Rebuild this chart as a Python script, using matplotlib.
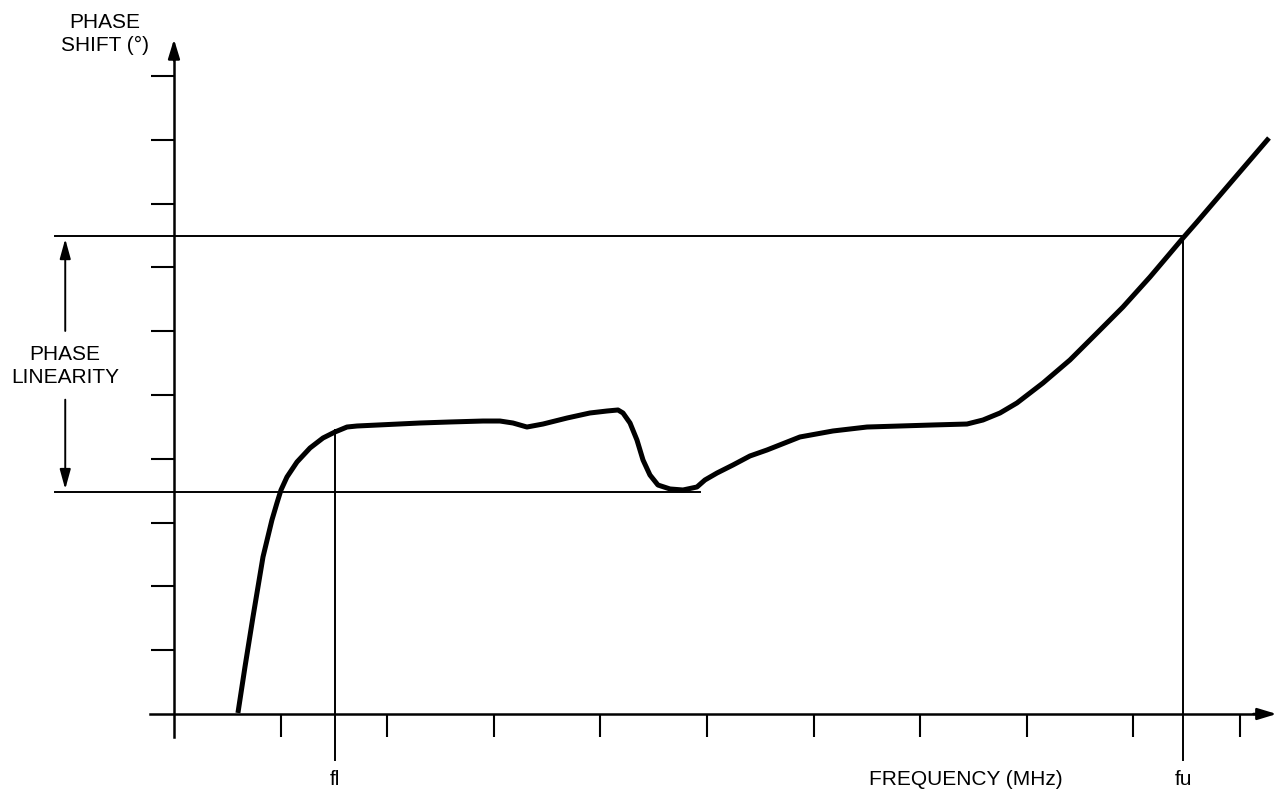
import matplotlib.pyplot as plt

# --- dados (unidades = divisões da grade) ---
freq = [0.600, 0.666, 0.741, 0.835, 0.919, 0.966, 1.004, 1.060, 1.154, 1.276, 1.398,
        1.510, 1.623, 1.717, 2.308, 2.589, 2.899, 3.058, 3.180, 3.311, 3.462, 3.687,
        3.902, 4.062, 4.165, 4.212, 4.278, 4.343, 4.400, 4.465, 4.540, 4.653, 4.775,
        4.906, 4.981, 5.094, 5.244, 5.403, 5.563, 5.872, 6.182, 6.501, 6.811, 7.120,
        7.439, 7.589, 7.749, 7.908, 8.152, 8.405, 8.659, 8.902, 9.156, 9.465, 9.597,
        9.934, 10.272]
fase = [0.016, 0.737, 1.520, 2.461, 3.041, 3.307, 3.511, 3.715, 3.950, 4.169, 4.326,
        4.420, 4.498, 4.514, 4.561, 4.577, 4.592, 4.592, 4.561, 4.498, 4.545, 4.639,
        4.718, 4.749, 4.765, 4.718, 4.561, 4.295, 3.981, 3.746, 3.589, 3.527, 3.511,
        3.558, 3.668, 3.777, 3.903, 4.044, 4.138, 4.342, 4.436, 4.498, 4.514, 4.530,
        4.545, 4.608, 4.718, 4.875, 5.188, 5.549, 5.972, 6.379, 6.850, 7.460, 7.712,
        8.370, 9.028]

x_ticks = list(range(1, 11))
y_ticks = list(range(1, 11))
fl, fu = 1.51, 9.47
lin_baixo, lin_alto = 3.48, 7.49

fig = plt.figure(figsize=(12.87, 7.94), dpi=100)
ax = fig.add_axes([0, 0, 1, 1])
ax.set_xlim(-1.632, 10.441)
ax.set_ylim(-1.254, 11.191)

for s in ['top', 'right']:
    ax.spines[s].set_visible(False)
ax.spines['left'].set_position(('data', 0))
ax.spines['bottom'].set_position(('data', 0))
ax.spines['left'].set_bounds(-0.36, 10.4)
ax.spines['bottom'].set_bounds(-0.225, 10.2)
ax.spines['left'].set_linewidth(1.8)
ax.spines['bottom'].set_linewidth(1.8)
ax.set_xticks(x_ticks)
ax.set_yticks(y_ticks)
ax.set_xticklabels([])
ax.set_yticklabels([])
ax.tick_params(direction='out', length=16.5, width=1.5, color='black')

# setas dos eixos
seta_eixo = dict(arrowstyle='-|>,head_width=0.35,head_length=1.15', color='black', lw=1.8)
ax.annotate('', xy=(0, 10.62), xytext=(0, 10.2), arrowprops=seta_eixo)
ax.annotate('', xy=(10.37, 0), xytext=(10.1, 0), arrowprops=seta_eixo)

# linhas de referência
ax.plot([-1.12, fu], [lin_alto, lin_alto], color='black', lw=1.4)
ax.plot([-1.12, 4.93], [lin_baixo, lin_baixo], color='black', lw=1.4)
ax.plot([fl, fl], [-0.72, 4.45], color='black', lw=1.4)
ax.plot([fu, fu], [-0.72, lin_alto], color='black', lw=1.4)

# seta dupla "phase linearity"
seta_fina = dict(arrowstyle='-|>,head_width=0.33,head_length=1.2', color='black', lw=1.4)
ax.annotate('', xy=(-1.02, lin_alto), xytext=(-1.02, 5.96), arrowprops=seta_fina)
ax.annotate('', xy=(-1.02, lin_baixo), xytext=(-1.02, 4.97), arrowprops=seta_fina)

# curva
ax.plot(freq, fase, color='black', lw=3.6, solid_capstyle='butt', solid_joinstyle='round')

fonte = dict(family='Liberation Sans', fontsize=15, color='black')
ax.text(-1.02, 5.45, 'PHASE\nLINEARITY', ha='center', va='center', linespacing=1.25, **fonte)
ax.text(-0.65, 10.66, 'PHASE\nSHIFT (°)', ha='center', va='center', linespacing=1.25, **fonte)
ax.text(fl, -1.03, 'fl', ha='center', va='center', **fonte)
ax.text(fu, -1.03, 'fu', ha='center', va='center', **fonte)
ax.text(7.43, -1.03, 'FREQUENCY (MHz)', ha='center', va='center', **fonte)

plt.savefig('out.png', dpi=100)
plt.close()
